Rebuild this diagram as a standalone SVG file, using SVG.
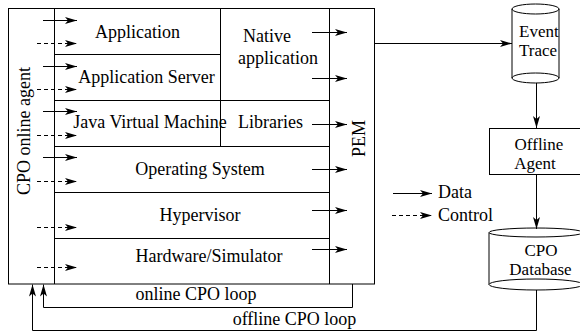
<svg xmlns="http://www.w3.org/2000/svg" width="580" height="331" viewBox="0 0 580 331">
<style>
text{font-family:"Liberation Serif","Times New Roman",serif;font-size:18px;fill:#000}
.m{text-anchor:middle}
.s{font-size:17px}
.ln{fill:none;stroke:#000;stroke-width:1}
.ar{fill:none;stroke:#000;stroke-width:1;marker-end:url(#ah)}
.da{stroke-dasharray:4 3}
</style>
<defs>
<marker id="ah" markerUnits="userSpaceOnUse" markerWidth="12" markerHeight="8" viewBox="0 0 12 8" refX="12" refY="4" orient="auto">
<path d="M0,0.5 L12,4 L0,7.5 L3,4 Z" fill="#000" stroke="none"/>
</marker>
</defs>
<g id="agent-box">
<rect class="ln" x="8.5" y="8.5" width="366" height="275.5"/>
<line class="ln" x1="54.5" y1="8.5" x2="54.5" y2="284"/>
<text transform="translate(29.5,131) rotate(-90)" class="m">CPO online agent</text>
</g>
<g id="pem">
<line class="ln" x1="329.5" y1="8.5" x2="329.5" y2="284"/>
<text transform="translate(364.5,138.5) rotate(-90)" class="m">PEM</text>
</g>
<g id="application">
<line class="ln" x1="54.5" y1="54.5" x2="220.5" y2="54.5"/>
<text x="137.5" y="38" class="m">Application</text>
</g>
<g id="application-server">
<line class="ln" x1="54.5" y1="100.5" x2="329.5" y2="100.5"/>
<text x="146.5" y="83" class="m">Application Server</text>
</g>
<g id="native-application">
<line class="ln" x1="220.5" y1="8.5" x2="220.5" y2="146.5"/>
<text x="267" y="42" class="m">Native</text>
<text x="278" y="64" class="m">application</text>
</g>
<g id="jvm">
<line class="ln" x1="54.5" y1="146.5" x2="329.5" y2="146.5"/>
<text x="150" y="128" class="m">Java Virtual Machine</text>
</g>
<g id="libraries">
<text x="270.5" y="128" class="m">Libraries</text>
</g>
<g id="operating-system">
<line class="ln" x1="54.5" y1="192.5" x2="329.5" y2="192.5"/>
<text x="200" y="175" class="m">Operating System</text>
</g>
<g id="hypervisor">
<line class="ln" x1="54.5" y1="238.5" x2="329.5" y2="238.5"/>
<text x="200" y="221" class="m">Hypervisor</text>
</g>
<g id="hardware">
<text x="209" y="262" class="m">Hardware/Simulator</text>
</g>
<g id="event-trace">
<path class="ln" d="M512,9 V78 A23.5,5 0 0 0 559,78 V9"/>
<ellipse class="ln" cx="535.5" cy="9" rx="23.5" ry="5"/>
<path class="ln" d="M512,78 A23.5,5 0 0 1 559,78"/>
<text x="519" y="37" class="s">Event</text>
<text x="519" y="56" class="s">Trace</text>
</g>
<g id="offline-agent">
<rect class="ln" x="489.5" y="128.5" width="94" height="46"/>
<text x="539" y="149.5" class="m s">Offline</text>
<text x="535" y="168.5" class="m s">Agent</text>
</g>
<g id="cpo-database">
<path class="ln" d="M489,232.5 V284.5 A47,5.5 0 0 0 583,284.5 V232.5"/>
<ellipse class="ln" cx="536" cy="232.5" rx="47" ry="4.5"/>
<path class="ln" d="M489,284.5 A47,5.5 0 0 1 583,284.5"/>
<text x="541" y="255.5" class="m s">CPO</text>
<text x="540.5" y="274.5" class="m s">Database</text>
</g>
<g id="legend">
<line class="ar" x1="393" y1="193.5" x2="432" y2="193.5"/>
<text x="438" y="198">Data</text>
<line class="ar da" x1="392" y1="215.5" x2="432" y2="215.5"/>
<text x="438" y="221">Control</text>
</g>
<g id="connectors">
<line class="ar" x1="43" y1="20.5" x2="77" y2="20.5"/>
<line class="ar" x1="43" y1="66.5" x2="77" y2="66.5"/>
<line class="ar" x1="43" y1="111.5" x2="77" y2="111.5"/>
<line class="ar" x1="43" y1="157.5" x2="77" y2="157.5"/>
<line class="ar da" x1="37" y1="43.5" x2="77" y2="43.5"/>
<line class="ar da" x1="37" y1="89.5" x2="77" y2="89.5"/>
<line class="ar da" x1="37" y1="135.5" x2="77" y2="135.5"/>
<line class="ar da" x1="37" y1="181.5" x2="77" y2="181.5"/>
<line class="ar da" x1="37" y1="227.5" x2="77" y2="227.5"/>
<line class="ar da" x1="37" y1="267.5" x2="77" y2="267.5"/>
<line class="ar" x1="312" y1="32.5" x2="347" y2="32.5"/>
<line class="ar" x1="312" y1="78.5" x2="347" y2="78.5"/>
<line class="ar" x1="312" y1="124.5" x2="347" y2="124.5"/>
<line class="ar" x1="312" y1="169.5" x2="347" y2="169.5"/>
<line class="ar" x1="312" y1="210.5" x2="347" y2="210.5"/>
<line class="ar" x1="312" y1="249.5" x2="347" y2="249.5"/>
<line class="ar" x1="375" y1="43.5" x2="512" y2="43.5"/>
<line class="ar" x1="536.5" y1="83" x2="536.5" y2="128"/>
<line class="ar" x1="536.5" y1="175" x2="536.5" y2="229"/>
<path class="ar" d="M352.5,284 V307.5 H43.5 V284.5"/>
<path class="ar" d="M536.5,290 V330.5 H32.5 V284.5"/>
<text x="196" y="300" class="m">online CPO loop</text>
<text x="294.5" y="325" class="m">offline CPO loop</text>
</g>
</svg>
